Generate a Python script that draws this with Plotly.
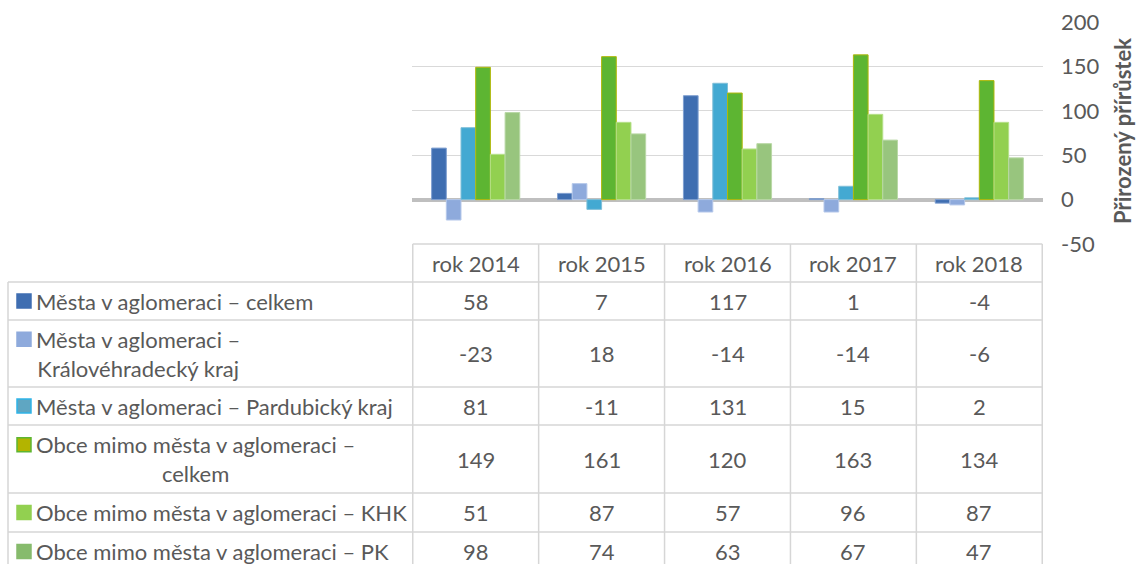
import plotly.graph_objects as go

# ---------------- data ----------------
categories = ["rok 2014", "rok 2015", "rok 2016", "rok 2017", "rok 2018"]
series_names = [
    "Města v aglomeraci – celkem",
    "Města v aglomeraci – Královéhradecký kraj",
    "Města v aglomeraci – Pardubický kraj",
    "Obce mimo města v aglomeraci – celkem",
    "Obce mimo města v aglomeraci – KHK",
    "Obce mimo města v aglomeraci – PK",
]
row_labels = [
    "Města v aglomeraci – celkem",
    "Města v aglomeraci –<br>Královéhradecký kraj",
    "Města v aglomeraci – Pardubický kraj",
    "Obce mimo města v aglomeraci –<br>celkem",
    "Obce mimo města v aglomeraci – KHK",
    "Obce mimo města v aglomeraci – PK",
]
mesta_celkem = [58, 7, 117, 1, -4]
mesta_khk = [-23, 18, -14, -14, -6]
mesta_pk = [81, -11, 131, 15, 2]
obce_celkem = [149, 161, 120, 163, 134]
obce_khk = [51, 87, 57, 96, 87]
obce_pk = [98, 74, 63, 67, 47]
series_values = [mesta_celkem, mesta_khk, mesta_pk, obce_celkem, obce_khk, obce_pk]

y_tick_values = [-50, 0, 50, 100, 150, 200]
y_tick_labels = ["-50", "0", "50", "100", "150", "200"]
y_title = "Přirozený přírůstek"

# ---------------- styles ----------------
W, H = 1137, 564
FONT = "Lato"
TXT = "#595959"
bar_colors = ["#3f6eb1", "#8eaadc", "#43a9d2", "#5db532", "#92d050", "#98c57e"]
bar_lines = ["#7f9fd0", "#b5c8ea", "#7fbfd8", "#b0b80a", "#b6e08a", "#b9d8a6"]
swatch_fill = ["#3f6eb1", "#8eaadc", "#5fa6c2", "#b3b400", "#92d050", "#86bb6c"]
swatch_line = ["#3f6eb1", "#8eaadc", "#2fb4e8", "#5db532", "#92d050", "#86bb6c"]
GRID = "#d9d9d9"
BORDER = "#d6d6d6"

PLOT_L, PLOT_R, PLOT_T, PLOT_B = 412, 1043, 22, 244
TABLE_L = 8
ROW_EDGES = [244, 282, 320, 387, 425, 493, 532, 571]


def px(x):
    return x / W


def py(y):
    return 1 - y / H


fig = go.Figure()
for name, vals, c, lc in zip(series_names, series_values, bar_colors, bar_lines):
    fig.add_trace(go.Bar(
        x=categories, y=vals, name=name,
        marker=dict(color=c, line=dict(color=lc, width=1)),
    ))

shapes = []
annotations = []

# table horizontal borders
for i, e in enumerate(ROW_EDGES):
    shapes.append(dict(type="line", xref="x", yref="paper",
                       x0=-0.5, x1=len(categories) - 0.5, y0=py(e), y1=py(e),
                       line=dict(color=BORDER, width=1.5)))
    if i >= 1:
        shapes.append(dict(type="line", xref="paper", yref="paper",
                           x0=px(TABLE_L), x1=px(PLOT_L), y0=py(e), y1=py(e),
                           line=dict(color=BORDER, width=1.5)))
# table vertical borders
for k in range(len(categories) + 1):
    shapes.append(dict(type="line", xref="x", yref="paper",
                       x0=k - 0.5, x1=k - 0.5, y0=py(ROW_EDGES[0]), y1=py(ROW_EDGES[-1]),
                       line=dict(color=BORDER, width=1.5)))
shapes.append(dict(type="line", xref="paper", yref="paper",
                   x0=px(TABLE_L), x1=px(TABLE_L), y0=py(ROW_EDGES[1]), y1=py(ROW_EDGES[-1]),
                   line=dict(color=BORDER, width=1.5)))

tfont = dict(family=FONT, size=22, color=TXT)

# header
for c in categories:
    annotations.append(dict(x=c, xref="x", yref="paper",
                            y=py((ROW_EDGES[0] + ROW_EDGES[1]) / 2),
                            text=c, showarrow=False, font=tfont,
                            xanchor="center", yanchor="middle"))

# rows
for r, (lab, vals) in enumerate(zip(row_labels, series_values)):
    top, bot = ROW_EDGES[r + 1], ROW_EDGES[r + 2]
    cy = (top + bot) / 2
    nlines = lab.count("<br>") + 1
    first_line_y = cy - (nlines - 1) * 14.3
    annotations.append(dict(x=px(34), y=py(cy), xref="paper", yref="paper",
                            text=lab, showarrow=False, font=tfont, align="center",
                            xanchor="left", yanchor="middle"))
    shapes.append(dict(type="rect", xref="paper", yref="paper",
                       x0=px(17), x1=px(31), y0=py(first_line_y + 7), y1=py(first_line_y - 7),
                       fillcolor=swatch_fill[r], line=dict(color=swatch_line[r], width=1.5)))
    for c, v in zip(categories, vals):
        annotations.append(dict(x=c, xref="x", yref="paper", y=py(cy),
                                text=str(v), showarrow=False, font=tfont,
                                xanchor="center", yanchor="middle"))

# axis title
annotations.append(dict(x=px(1122), y=py(131), xref="paper", yref="paper",
                        text="<b>" + y_title + "</b>", textangle=-90, showarrow=False,
                        font=dict(family=FONT, size=22, color=TXT),
                        xanchor="center", yanchor="middle", borderpad=0))

fig.update_layout(
    width=W, height=H,
    margin=dict(l=0, r=0, t=0, b=0, autoexpand=False),
    paper_bgcolor="white", plot_bgcolor="white",
    showlegend=False,
    barmode="group", bargap=0.30, bargroupgap=0,
    font=dict(family=FONT, color=TXT),
    xaxis=dict(domain=[px(PLOT_L), px(PLOT_R)], showticklabels=False, automargin=False,
               showgrid=False, zeroline=False, showline=False, ticks=""),
    yaxis=dict(domain=[py(PLOT_B), py(PLOT_T)], range=[-50, 200], side="right",
               automargin=False,
               tickmode="array", tickvals=y_tick_values, ticktext=y_tick_labels,
               showgrid=True, gridcolor=GRID, gridwidth=1,
               zeroline=True, zerolinecolor="#bfbfbf", zerolinewidth=4,
               showline=False, ticks="", ticklabelstandoff=17,
               tickfont=dict(family=FONT, size=22, color=TXT)),
    shapes=shapes,
    annotations=annotations,
)

fig.write_html(
    "out.html",
    config={"displayModeBar": False},
    post_script="document.body.style.margin='0';document.body.style.padding='0';"
                "document.body.style.overflow='hidden';",
)
